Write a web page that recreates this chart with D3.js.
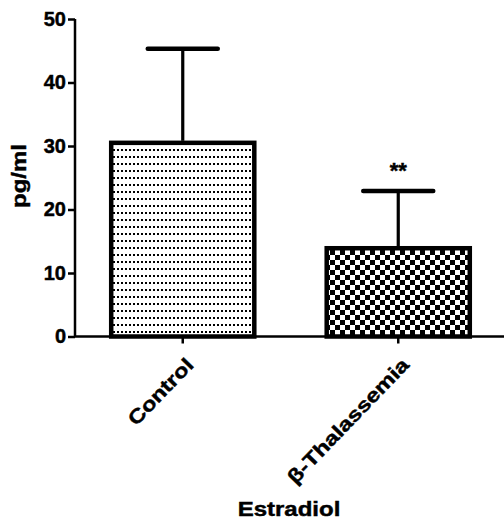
<!DOCTYPE html>
<html>
<head>
<meta charset="utf-8">
<script src="https://cdn.jsdelivr.net/npm/d3@7"></script>
<style>
  body { margin: 0; background: #fff; }
  text { font-family: "Liberation Sans", Arial, sans-serif; font-weight: bold; fill: #000; stroke: #000; stroke-width: 0.45px; }
</style>
</head>
<body>
<div id="chart"></div>
<script>
// data
var groups = ["Control", "β-Thalassemia"];
var means = [30.5, 13.9];
var sdUpper = [45.3, 22.9];
var marks = ["", "**"];
var yTicks = [0, 10, 20, 30, 40, 50];

var svgWidth = 504;
var svgHeight = 521;

var svg = d3.select("#chart")
  .append("svg")
  .attr("width", svgWidth)
  .attr("height", svgHeight);

// fill patterns
var defs = svg.append("defs");
var dots = defs.append("pattern")
  .attr("id", "dots")
  .attr("patternUnits", "userSpaceOnUse")
  .attr("width", 4)
  .attr("height", 7);
dots.append("rect").attr("width", 4).attr("height", 7).attr("fill", "#fff");
dots.append("rect").attr("x", 1).attr("y", 2).attr("width", 2).attr("height", 2).attr("fill", "#000");

var checks = defs.append("pattern")
  .attr("id", "checks")
  .attr("patternUnits", "userSpaceOnUse")
  .attr("width", 10)
  .attr("height", 10);
checks.append("rect").attr("width", 10).attr("height", 10).attr("fill", "#fff");
checks.append("rect").attr("width", 5).attr("height", 5).attr("fill", "#000");
checks.append("rect").attr("x", 5).attr("y", 5).attr("width", 5).attr("height", 5).attr("fill", "#000");

var fills = ["url(#dots)", "url(#checks)"];

// scales
var xScale = d3.scaleBand()
  .domain(groups)
  .range([75, 506])
  .paddingInner(0.336)
  .paddingOuter(0.168);

var yScale = d3.scaleLinear()
  .domain([0, 50])
  .range([336.5, 19]);

// bars
svg.selectAll(".bar")
  .data(groups)
  .enter()
  .append("rect")
  .attr("class", "bar")
  .attr("x", d => xScale(d))
  .attr("width", xScale.bandwidth())
  .attr("y", (d, i) => yScale(means[i]))
  .attr("height", (d, i) => yScale(0) - yScale(means[i]))
  .attr("fill", (d, i) => fills[i])
  .attr("stroke", "#000")
  .attr("stroke-width", 4.5);

// error bars
var cx = d => xScale(d) + xScale.bandwidth() / 2;
svg.selectAll(".err")
  .data(groups)
  .enter()
  .append("line")
  .attr("x1", cx)
  .attr("x2", cx)
  .attr("y1", (d, i) => yScale(means[i]) - 2)
  .attr("y2", (d, i) => yScale(sdUpper[i]))
  .attr("stroke", "#000")
  .attr("stroke-width", 3.2);

svg.selectAll(".cap")
  .data(groups)
  .enter()
  .append("line")
  .attr("x1", d => cx(d) - 35)
  .attr("x2", d => cx(d) + 35)
  .attr("y1", (d, i) => yScale(sdUpper[i]))
  .attr("y2", (d, i) => yScale(sdUpper[i]))
  .attr("stroke", "#000")
  .attr("stroke-width", 4.5)
  .attr("stroke-linecap", "round");

// significance stars
svg.selectAll(".sig")
  .data(groups)
  .enter()
  .append("text")
  .attr("x", cx)
  .attr("y", (d, i) => yScale(sdUpper[i]) - 13)
  .attr("text-anchor", "middle")
  .style("font-size", "22px")
  .text((d, i) => marks[i]);

// y axis
var yAxis = d3.axisLeft(yScale)
  .tickValues(yTicks)
  .tickSize(7)
  .tickPadding(2);

var gy = svg.append("g")
  .attr("transform", "translate(75,0)")
  .call(yAxis);
gy.select(".domain").attr("stroke-width", 2.5).attr("d", "M0," + yScale(50) + "V" + yScale(0));
gy.selectAll(".tick line").attr("stroke-width", 2.5);
gy.selectAll(".tick text")
  .attr("fill", "#000")
  .style("font-size", "20px")
  .style("font-family", "'Liberation Sans', Arial, sans-serif")
  .style("font-weight", "bold");

// x axis
var xAxis = d3.axisBottom(xScale)
  .tickSize(7)
  .tickFormat("");

var gx = svg.append("g")
  .attr("transform", "translate(0," + yScale(0) + ")")
  .call(xAxis);
gx.select(".domain").attr("stroke-width", 2.5).attr("d", "M75,0H504");
gx.selectAll(".tick line").attr("stroke-width", 2.5);

// rotated category labels
svg.selectAll(".cat")
  .data(groups)
  .enter()
  .append("text")
  .attr("text-anchor", "end")
  .attr("transform", d => "translate(" + (cx(d) + 12) + ",366) rotate(-46) scale(1.22,1)")
  .style("font-size", "19.5px")
  .text(d => d);

// axis titles
svg.append("text")
  .attr("transform", "translate(26,176) rotate(-90) scale(1.2,1)")
  .attr("text-anchor", "middle")
  .style("font-size", "20px")
  .text("pg/ml");

svg.append("text")
  .attr("transform", "translate(289,516) scale(1.2,1)")
  .attr("text-anchor", "middle")
  .style("font-size", "20px")
  .text("Estradiol");
</script>
</body>
</html>
